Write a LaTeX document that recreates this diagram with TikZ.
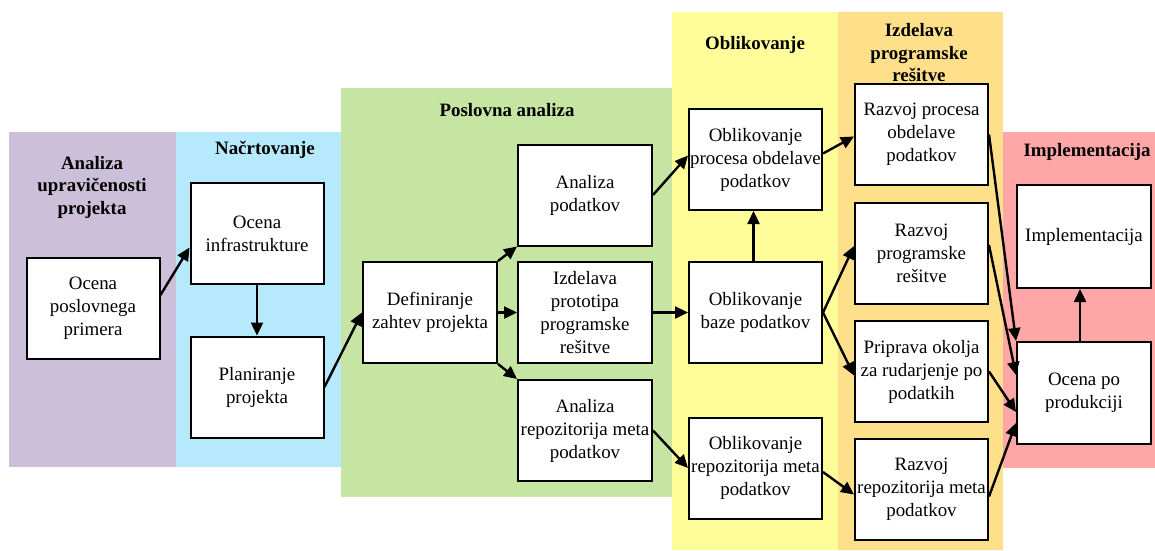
\documentclass[tikz,border=0pt]{standalone}
\usepackage{fontspec}
\setmainfont{Liberation Serif}
\usetikzlibrary{arrows.meta}

% phase band colours
\definecolor{bandLilac}{RGB}{203,191,217}
\definecolor{bandSky}{RGB}{181,233,251}
\definecolor{bandGreen}{RGB}{198,228,162}
\definecolor{bandYellow}{RGB}{255,253,153}
\definecolor{bandOrange}{RGB}{255,224,138}
\definecolor{bandRose}{RGB}{255,166,166}

\begin{document}
\begin{tikzpicture}[x=1pt,y=-1pt,
  stepbox/.style={draw=black, line width=2pt, fill=white,
    minimum width=133pt, minimum height=101pt, inner sep=0pt,
    align=center, font=\fontsize{18.9}{23}\selectfont},
  phasetitle/.style={align=center, inner sep=0pt,
    font=\fontsize{18.9}{22.5}\selectfont\bfseries},
  flow/.style={line width=2.4pt, -{Triangle[length=13pt,width=12pt]}}]

\useasboundingbox (0,0) rectangle (1155,550);

% phase bands
\fill[bandLilac]  (9,132)    rectangle (176,467);
\fill[bandSky]    (176,132)  rectangle (341,467);
\fill[bandGreen]  (341,88)   rectangle (672,497);
\fill[bandYellow] (672,12)   rectangle (838,550);
\fill[bandOrange] (838,12)   rectangle (1003,550);
\fill[bandRose]   (1003,132) rectangle (1155,468);

% phase titles
\node[phasetitle] (tA) at (92,187)   {Analiza\\upravičenosti\\projekta};
\node[phasetitle] (tB) at (265,150)  {Načrtovanje};
\node[phasetitle] (tC) at (507,110)  {Poslovna analiza};
\node[phasetitle] (tD) at (755,45)   {Oblikovanje};
\node[phasetitle] (tE) at (919,53)   {Izdelava\\programske\\rešitve};
\node[phasetitle] (tF) at (1087,152) {Implementacija};

% activities
\node[stepbox] (A) at (93,308)      {Ocena\\poslovnega\\primera};
\node[stepbox] (B) at (257,233.5)   {Ocena\\infrastrukture};
\node[stepbox] (C) at (257,387)     {Planiranje\\projekta};
\node[stepbox, minimum width=134pt] (D) at (430,312.5) {Definiranje\\zahtev projekta};
\node[stepbox, minimum width=134pt] (E) at (585,195)   {Analiza\\podatkov};
\node[stepbox, minimum width=134pt] (F) at (585,312.5) {Izdelava\\prototipa\\programske\\rešitve};
\node[stepbox, minimum width=134pt] (G) at (585,430.5) {Analiza\\repozitorija meta\\podatkov};
\node[stepbox] (H) at (755.5,159.5) {Oblikovanje\\procesa obdelave\\podatkov};
\node[stepbox] (I) at (755.5,312.5) {Oblikovanje\\baze podatkov};
\node[stepbox] (J) at (755.5,468)   {Oblikovanje\\repozitorija meta\\podatkov};
\node[stepbox] (K) at (921.5,134.5) {Razvoj procesa\\obdelave\\podatkov};
\node[stepbox] (L) at (921.5,253)   {Razvoj\\programske\\rešitve};
\node[stepbox] (M) at (921.5,371.5) {Priprava okolja\\za rudarjenje po\\podatkih};
\node[stepbox] (N) at (921.5,489.5) {Razvoj\\repozitorija meta\\podatkov};
\node[stepbox, minimum width=134pt, minimum height=103pt] (P) at (1084,236.5) {Implementacija};
\node[stepbox, minimum width=134pt, minimum height=102pt] (Q) at (1084,393)   {Ocena po\\produkciji};

% connectors
\draw[flow] ([yshift=13pt]A.east) -- ([yshift=-14pt]B.west);
\draw[flow] (B.south) -- (C.north);
\draw[flow] (C.east) -- (D.west);
\draw[flow] (D.north east) -- (E.south west);
\draw[flow] (D.east) -- (F.west);
\draw[flow] (D.south east) -- (G.north west);
\draw[flow] (E.east) -- ([yshift=4pt]H.west);
\draw[flow] (F.east) -- (I.west);
\draw[flow] (G.east) -- (J.west);
\draw[flow] ([xshift=-2pt]I.north) -- ([xshift=-2pt]H.south);
\draw[flow] ([yshift=6pt]H.east) -- ([yshift=-2pt]K.west);
\draw[flow] (I.east) -- ([yshift=7pt]L.west);
\draw[flow] (I.east) -- ([yshift=-4pt]M.west);
\draw[flow] ([yshift=-4pt]J.east) -- ([yshift=-5pt]N.west);
\draw[flow] (K.east) -- (Q.north west);
\draw[flow] ([yshift=8pt]L.east) -- ([yshift=18pt]Q.west);
\draw[flow] (M.east) -- ([yshift=-19pt]Q.west);
\draw[flow] ([yshift=-7pt]N.east) -- ([yshift=-30pt]Q.west);
\draw[flow] ([xshift=-4pt]Q.north) -- ([xshift=-4pt]P.south);

\end{tikzpicture}
\end{document}
